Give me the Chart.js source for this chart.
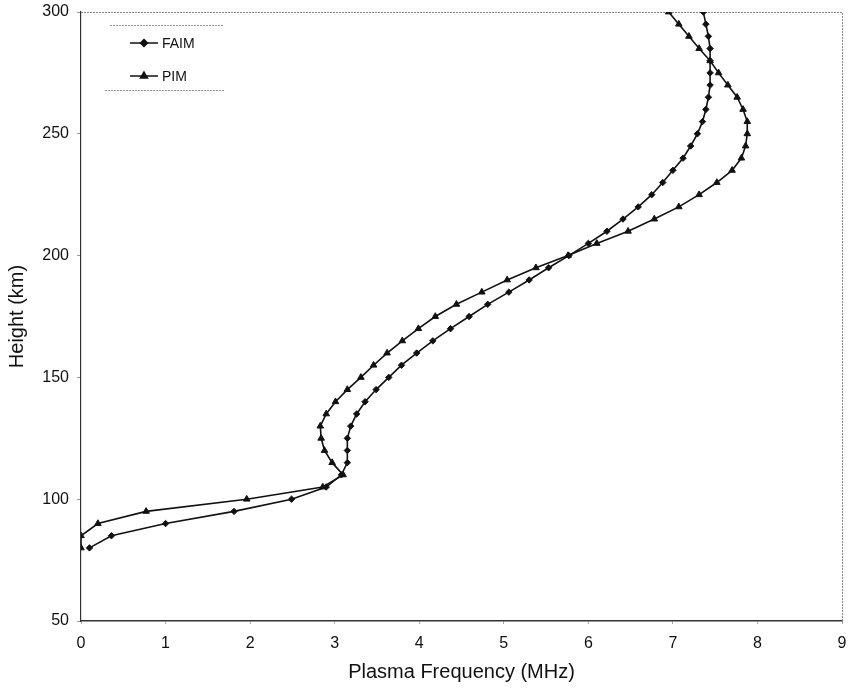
<!DOCTYPE html>
<html>
<head>
<meta charset="utf-8">
<script src="https://cdn.jsdelivr.net/npm/chart.js@4"></script>
<style>
  html, body { margin: 0; padding: 0; background: #fff; }
  #wrap { width: 848px; height: 690px; }
</style>
</head>
<body>
<div id="wrap"><canvas id="chart" width="848" height="690"></canvas></div>
<script>
// heights in km, frequencies in MHz
const heights = [80, 85, 90, 95, 100, 105, 110, 115, 120, 125, 130, 135, 140, 145, 150,
  155, 160, 165, 170, 175, 180, 185, 190, 195, 200, 205, 210, 215, 220, 225,
  230, 235, 240, 245, 250, 255, 260, 265, 270, 275, 280, 285, 290, 295, 300];

const faim = [0.10, 0.36, 1.00, 1.81, 2.49, 2.90, 3.08, 3.15, 3.15, 3.15, 3.19, 3.26, 3.36, 3.49, 3.64,
  3.79, 3.97, 4.16, 4.37, 4.59, 4.81, 5.06, 5.30, 5.53, 5.77, 6.00, 6.22, 6.41, 6.59, 6.75,
  6.88, 7.00, 7.12, 7.21, 7.29, 7.35, 7.39, 7.42, 7.44, 7.44, 7.44, 7.44, 7.42, 7.39, 7.36];

const pim = [0.00, 0.00, 0.20, 0.77, 1.96, 2.86, 3.10, 2.97, 2.88, 2.84, 2.83, 2.90, 3.01, 3.15, 3.31,
  3.46, 3.62, 3.80, 3.99, 4.19, 4.44, 4.74, 5.04, 5.38, 5.76, 6.10, 6.47, 6.78, 7.07, 7.31,
  7.52, 7.70, 7.81, 7.86, 7.88, 7.88, 7.83, 7.76, 7.65, 7.54, 7.44, 7.31, 7.19, 7.07, 6.95];

const seriesNames = ['FAIM', 'PIM'];

const toPoints = (xs) => xs.map((x, i) => ({x, y: heights[i]}));
const FONT = '"Liberation Sans", Arial, Helvetica, sans-serif';
const INK = '#111';

// dotted frame on top/right plus the little legend box inside the plot
const framePlugin = {
  id: 'frame',
  beforeDatasetsDraw(chart) {
    const {ctx, chartArea: a} = chart;
    ctx.save();
    ctx.strokeStyle = '#888';
    ctx.lineWidth = 1;
    ctx.setLineDash([2, 1]);
    ctx.beginPath();
    ctx.moveTo(a.left, a.top + 0.5);
    ctx.lineTo(a.right + 0.5, a.top + 0.5);
    ctx.lineTo(a.right + 0.5, a.bottom);
    ctx.stroke();
    ctx.restore();
  },
  afterDatasetsDraw(chart) {
    const {ctx} = chart;
    ctx.save();
    ctx.strokeStyle = '#999';
    ctx.lineWidth = 1;
    ctx.setLineDash([2, 1]);
    ctx.beginPath();
    ctx.moveTo(110, 25.5); ctx.lineTo(224, 25.5);
    ctx.moveTo(105, 90.5); ctx.lineTo(224, 90.5);
    ctx.stroke();
    ctx.setLineDash([]);

    const rows = [
      {label: seriesNames[0], y: 43, style: 'rectRot', r: 3.5},
      {label: seriesNames[1], y: 76, style: 'triangle', r: 4}
    ];
    rows.forEach(row => {
      ctx.strokeStyle = INK;
      ctx.lineWidth = 1.5;
      ctx.beginPath();
      ctx.moveTo(130, row.y); ctx.lineTo(158, row.y);
      ctx.stroke();
      ctx.fillStyle = INK;
      Chart.helpers.drawPoint(ctx, {pointStyle: row.style, radius: row.r, borderWidth: 1}, 144, row.y);
      ctx.fill();
      ctx.font = '14px ' + FONT;
      ctx.textBaseline = 'middle';
      ctx.fillStyle = INK;
      ctx.fillText(row.label, 162, row.y + 1);
    });
    ctx.restore();
  }
};

new Chart(document.getElementById('chart'), {
  type: 'scatter',
  data: {
    datasets: [
      {
        label: seriesNames[0],
        data: toPoints(faim),
        showLine: true,
        borderColor: INK,
        backgroundColor: INK,
        borderWidth: 1.6,
        pointStyle: 'rectRot',
        pointRadius: 3.2,
        pointBorderWidth: 1,
        tension: 0
      },
      {
        label: seriesNames[1],
        data: toPoints(pim),
        showLine: true,
        borderColor: INK,
        backgroundColor: INK,
        borderWidth: 1.6,
        pointStyle: 'triangle',
        pointRadius: 3.8,
        pointBorderWidth: 1,
        tension: 0
      }
    ]
  },
  options: {
    responsive: false,
    animation: false,
    layout: {padding: {top: 12, right: 6, left: 0, bottom: 0}},
    plugins: {
      legend: {display: false},
      tooltip: {enabled: false}
    },
    scales: {
      x: {
        type: 'linear',
        min: 0,
        max: 9,
        afterFit(scale) {
          scale.height = 69;
          scale.paddingLeft = 0;
          scale.paddingRight = 0;
        },
        ticks: {
          stepSize: 1,
          color: INK,
          padding: 10,
          font: {family: FONT, size: 16}
        },
        grid: {drawOnChartArea: false, drawTicks: true, tickLength: 3, color: '#aaa'},
        border: {color: '#333', width: 1.5},
        title: {
          display: true,
          text: 'Plasma Frequency (MHz)',
          color: INK,
          font: {family: FONT, size: 20},
          padding: {top: 0, bottom: 6}
        }
      },
      y: {
        type: 'linear',
        min: 50,
        max: 300,
        afterFit(scale) {
          scale.width = 81;
          scale.paddingTop = 0;
          scale.paddingBottom = 0;
        },
        ticks: {
          stepSize: 50,
          color: INK,
          padding: 8,
          font: {family: FONT, size: 16}
        },
        grid: {drawOnChartArea: false, drawTicks: true, tickLength: 4, color: '#999'},
        border: {color: '#333', width: 1.2},
        title: {
          display: true,
          text: 'Height (km)',
          color: INK,
          font: {family: FONT, size: 20},
          padding: {top: 5, bottom: 0}
        }
      }
    }
  },
  plugins: [framePlugin]
});
</script>
</body>
</html>
